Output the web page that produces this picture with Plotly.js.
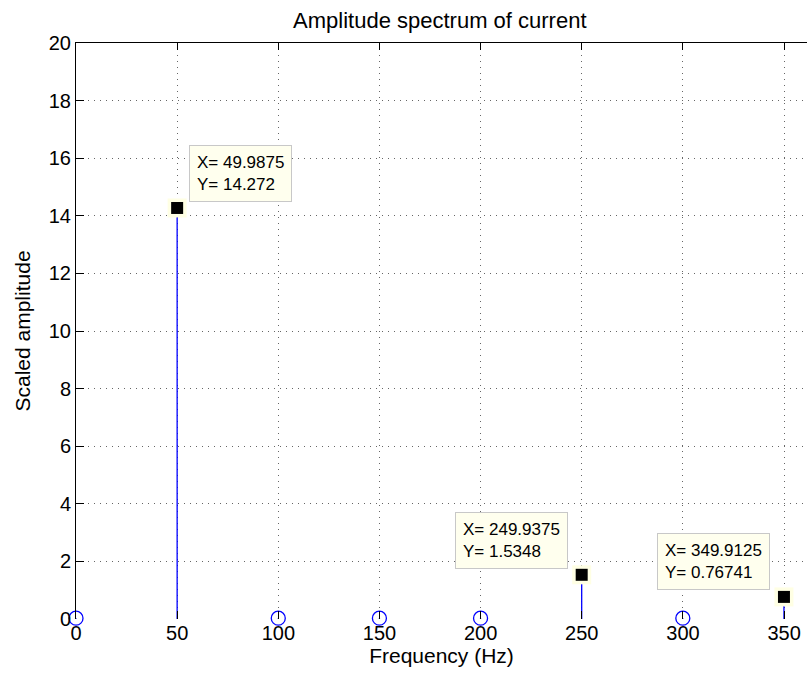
<!DOCTYPE html>
<html>
<head>
<meta charset="utf-8">
<script src="https://cdn.plot.ly/plotly-3.0.1.min.js"></script>
<style>html,body{margin:0;padding:0;background:#fff;}#chart{width:807px;height:682px;}</style>
</head>
<body>
<div id="chart"></div>
<script>
// Data
const freq = [0, 49.9875, 99.975, 149.9625, 199.95, 249.9375, 299.925, 349.9125];
const amplitude = [0.03, 14.272, 0.03, 0.03, 0.03, 1.5348, 0.03, 0.76741];
const tipX = [49.9875, 249.9375, 349.9125];
const tipY = [14.272, 1.5348, 0.76741];
const tipLabels = ['X= 49.9875<br>Y= 14.272', 'X= 249.9375<br>Y= 1.5348', 'X= 349.9125<br>Y= 0.76741'];
const xTicks = [0, 50, 100, 150, 200, 250, 300, 350];
const yTicks = [0, 2, 4, 6, 8, 10, 12, 14, 16, 18, 20];

const FONT = 'Liberation Sans, Arial, Helvetica, sans-serif';
const tipOffsets = [[63, -34], [-70, -34], [-70, -35]];

const stems = {
  x: freq, y: amplitude, type: 'scatter', mode: 'markers',
  marker: {symbol: 'circle-open', size: 14, color: '#0000ff', line: {width: 1.3, color: '#0000ff'}},
  error_y: {type: 'data', symmetric: false, array: amplitude.map(() => 0), arrayminus: amplitude, width: 0, thickness: 1.3, color: '#0000ff'},
  cliponaxis: false, hoverinfo: 'skip', showlegend: false
};
const halo = {
  x: tipX, y: tipY, type: 'scatter', mode: 'markers',
  marker: {symbol: 'square', size: 19, color: '#ffffe4'},
  cliponaxis: false, hoverinfo: 'skip', showlegend: false
};
const tips = {
  x: tipX, y: tipY, type: 'scatter', mode: 'markers',
  marker: {symbol: 'square', size: 12, color: '#000000'},
  cliponaxis: false, hoverinfo: 'skip', showlegend: false
};
const topAxisTrace = {
  x: freq, y: amplitude, xaxis: 'x2', yaxis: 'y', type: 'scatter', mode: 'markers',
  marker: {opacity: 0}, hoverinfo: 'skip', showlegend: false
};

const annotations = tipX.map((xv, i) => ({
  x: xv, y: tipY[i], xref: 'x', yref: 'y',
  text: tipLabels[i], align: 'left',
  showarrow: true, arrowcolor: 'rgba(0,0,0,0)', arrowwidth: 0.1, arrowhead: 0,
  ax: tipOffsets[i][0], ay: tipOffsets[i][1],
  bgcolor: '#ffffee', bordercolor: '#c8c8c8', borderwidth: 1, borderpad: 7,
  font: {family: FONT, size: 17, color: '#000'}
}));

const layout = {
  width: 807, height: 682,
  margin: {l: 76, r: 0, t: 43, b: 63},
  paper_bgcolor: '#fff', plot_bgcolor: '#fff',
  font: {family: FONT, size: 20, color: '#000'},
  title: {text: 'Amplitude spectrum of current', font: {family: FONT, size: 22, color: '#000'}, x: 0.545, xanchor: 'center', y: 0.97, yanchor: 'middle'},
  xaxis: {
    range: [0, 361.3], tickvals: xTicks, ticktext: xTicks.map(String),
    showline: false, ticks: 'inside', ticklen: 8, tickcolor: '#000', tickwidth: 1,
    showgrid: true, gridcolor: '#666', griddash: '1px,5px', gridwidth: 1,
    zeroline: false, tickfont: {family: FONT, size: 20},
    title: {text: 'Frequency (Hz)', font: {family: FONT, size: 21}, standoff: 4}
  },
  xaxis2: {
    overlaying: 'x', side: 'top', matches: 'x', range: [0, 361.3], tickvals: xTicks,
    showticklabels: false, showline: true, linecolor: '#000', linewidth: 1,
    ticks: 'inside', ticklen: 7, tickcolor: '#000', showgrid: false, zeroline: false
  },
  yaxis: {
    range: [0, 20], tickvals: yTicks, ticktext: yTicks.map(String),
    showline: true, linecolor: '#000', linewidth: 1,
    ticks: 'inside', ticklen: 8, tickcolor: '#000', tickwidth: 1,
    showgrid: true, gridcolor: '#666', griddash: '1px,5px', gridwidth: 1,
    zeroline: false, tickfont: {family: FONT, size: 20},
    title: {text: 'Scaled amplitude', font: {family: FONT, size: 21}, standoff: 12}
  },
  annotations: annotations
};

Plotly.newPlot('chart', [stems, halo, tips, topAxisTrace], layout, {displayModeBar: false, staticPlot: true});
</script>
</body>
</html>
